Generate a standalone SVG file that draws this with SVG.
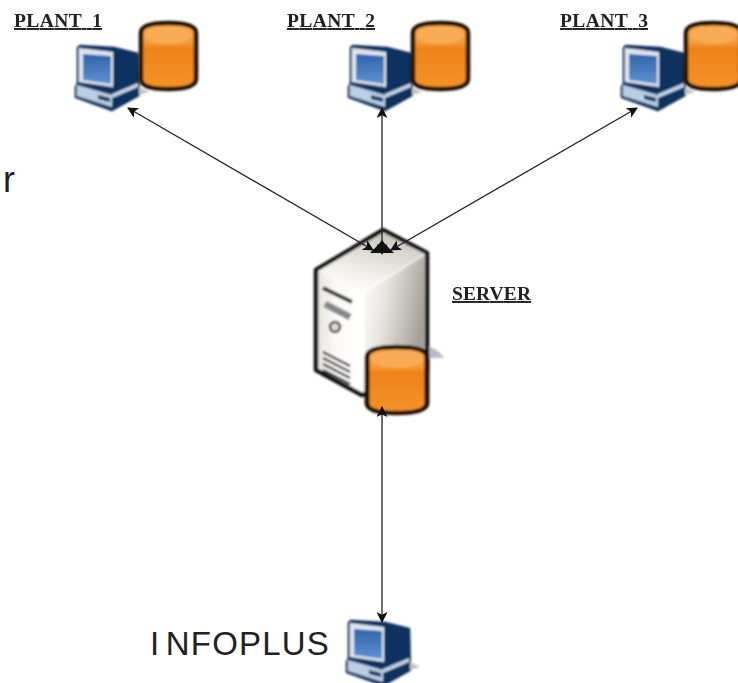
<svg xmlns="http://www.w3.org/2000/svg" width="738" height="683" viewBox="0 0 738 683">
<style>
.lbl{font-family:"Liberation Serif",serif;font-weight:bold;font-size:19.500px;fill:#222;text-decoration:underline;white-space:pre}
.big{font-family:"Liberation Sans",Arial,sans-serif;font-size:33px;fill:#222}
.conn{fill:none;stroke:#222;stroke-width:1.3;marker-start:url(#ah);marker-end:url(#ah)}
</style>
<defs>
<filter id="soft" x="-10%" y="-10%" width="120%" height="120%"><feGaussianBlur stdDeviation="0.8"/></filter>
<filter id="tsoft" x="-5%" y="-20%" width="110%" height="140%"><feGaussianBlur stdDeviation="0.45"/></filter>
<marker id="ah" viewBox="0 0 10 10" refX="9" refY="5" markerWidth="12" markerHeight="11" markerUnits="userSpaceOnUse" orient="auto-start-reverse"><path d="M0 0L10 5L0 10L2.500 5Z" fill="#111"/></marker>
<linearGradient id="oa" x1="0" y1="0" x2="0" y2="1"><stop offset="0" stop-color="#f9a94e"/><stop offset="0.3" stop-color="#f59a35"/><stop offset="0.38" stop-color="#ef8418"/><stop offset="1" stop-color="#f5922c"/></linearGradient>
<linearGradient id="srv" x1="0" y1="0" x2="1" y2="0"><stop offset="0" stop-color="#e6e3dc"/><stop offset="0.18" stop-color="#fbfaf7"/><stop offset="0.42" stop-color="#ffffff"/><stop offset="1" stop-color="#ffffff"/></linearGradient>
<linearGradient id="srvR" x1="0" y1="0" x2="1" y2="0.35"><stop offset="0" stop-color="#ffffff"/><stop offset="0.4" stop-color="#e8e5e0"/><stop offset="1" stop-color="#a5a198"/></linearGradient>
<linearGradient id="roof" x1="0.7" y1="0" x2="0.3" y2="1"><stop offset="0" stop-color="#c8c5bc"/><stop offset="0.7" stop-color="#f3f1ec"/><stop offset="1" stop-color="#ffffff"/></linearGradient>
<linearGradient id="scr" x1="0" y1="0" x2="0" y2="1"><stop offset="0" stop-color="#2f64ac"/><stop offset="1" stop-color="#5e92cf"/></linearGradient>
<g id="db">
<path d="M0 10C0 3 10 0 27 0C44 0 55 3 55 10V56C55 63 44 66 27 66C10 66 0 63 0 56Z" fill="url(#oa)" stroke="#1a0d02" stroke-width="4.500"/>
<ellipse cx="27.500" cy="12" rx="24" ry="9" fill="#f9ac56"/>
</g>
<g id="pc">
<path d="M63 50L62 9L38 3L4 1L2 3V38L0 42V52L36 65Z" fill="#10305f" stroke="#10305f" stroke-width="2.500" stroke-linejoin="round"/>
<path d="M3 3L37 7V42L3 37Z" fill="#dfe6ef"/>
<path d="M7 9L35 11V39L7 35Z" fill="url(#scr)"/>
<path d="M1 40L36 50V62L1 51Z" fill="#b9cfe2"/>
<path d="M36 49L62 38V42L36 53Z" fill="#c5d6e6"/>
<path d="M22 50L34 53V57L22 54Z" fill="#10305f"/>
<path d="M63 50L73 47L63 42Z" fill="#bfc2c8"/>
</g>
</defs>
<rect width="738" height="683" fill="#fff"/>
<g id="plant1"><use href="#pc" transform="translate(76,45)" filter="url(#soft)"/><use href="#db" transform="translate(141,23)" filter="url(#soft)"/><text class="lbl" x="14" y="27" textLength="88" filter="url(#tsoft)">PLANT  1</text></g>
<g id="plant2"><use href="#pc" transform="translate(349,45)" filter="url(#soft)"/><use href="#db" transform="translate(413,23)" filter="url(#soft)"/><text class="lbl" x="287" y="27" textLength="88" filter="url(#tsoft)">PLANT  2</text></g>
<g id="plant3"><use href="#pc" transform="translate(622,45)" filter="url(#soft)"/><use href="#db" transform="translate(686,23)" filter="url(#soft)"/><text class="lbl" x="560" y="27" textLength="88" filter="url(#tsoft)">PLANT  3</text></g>
<g id="server">
<g filter="url(#soft)">
<path d="M425 345Q440 350 444 358H425Z" fill="#b9bccb"/>
<path d="M383 230L427 253V372L362 395L316 370V270Z" fill="url(#srv)" stroke="#0c0c0c" stroke-width="4.500" stroke-linejoin="round"/>
<path d="M383 233L425 254L362 292L318 271Z" fill="url(#roof)"/>
<path d="M425 255V370L365 392V292Z" fill="url(#srvR)"/>
<path d="M323 288L352 302" stroke="#333" stroke-width="4" fill="none"/>
<path d="M325 304L350 317" stroke="#888" stroke-width="7" fill="none"/>
<circle cx="335" cy="327" r="5" fill="#dcdcd4" stroke="#444" stroke-width="2.500"/>
<path d="M323 352L350 366M323 358L350 372M323 364L350 378M323 370L350 384" stroke="#333" stroke-width="2.500" fill="none"/>
<g transform="translate(367,347) scale(1.09,1)"><use href="#db"/></g>
</g>
<text class="lbl" x="452" y="300" textLength="79" filter="url(#tsoft)">SERVER</text>
</g>
<g id="infoplus"><use href="#pc" transform="translate(347,620)" filter="url(#soft)"/><text class="big" x="150" y="655" letter-spacing="1.200" word-spacing="-5">I NFOPLUS</text></g>
<text class="big" x="3" y="192" style="font-size:36px">r</text>
<g id="connectors">
<path class="conn" d="M373 250L128 108"/>
<path class="conn" d="M382 254V108"/>
<path class="conn" d="M391 250L637 108"/>
<path class="conn" d="M382 407V622"/>
<path d="M370 253L378 245L382 240L386 245L394 253Z" fill="#111"/>
</g>
</svg>
